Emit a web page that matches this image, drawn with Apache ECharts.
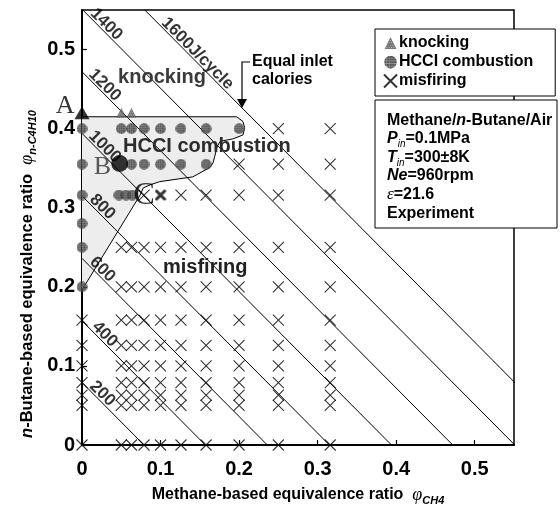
<!DOCTYPE html>
<html>
<head>
<meta charset="utf-8">
<script src="https://cdn.jsdelivr.net/npm/echarts@6.0.0/dist/echarts.min.js"></script>
<style>
  html, body { margin: 0; padding: 0; background: #fff; }
  #chart { width: 560px; height: 508px; }
</style>
</head>
<body>
<div id="chart"></div>
<script>
// ---- Operating map data: methane (x) vs n-butane (y) equivalence ratios ----
const xTicks = [0, 0.1, 0.2, 0.3, 0.4, 0.5];
const yTicks = [0, 0.1, 0.2, 0.3, 0.4, 0.5];

// Equal inlet calorie lines (J/cycle) and their intercepts on both axes
const calorieLevels = [200, 400, 600, 800, 1000, 1200, 1400, 1600];
const calorieIntercepts = [0.079, 0.157, 0.236, 0.315, 0.394, 0.472, 0.551, 0.630];
const calorieLabels = ['200', '400', '600', '800', '1000', '1200', '1400', '1600J/cycle'];

// Misfiring points, grouped by n-butane row
const misfireRowY = [0, 0.05, 0.063, 0.079, 0.1, 0.126, 0.158, 0.2, 0.25, 0.316, 0.355, 0.4];
const misfireRowX = [
  [0, 0.05, 0.063, 0.079, 0.1, 0.126, 0.158, 0.2, 0.25, 0.316],
  [0, 0.05, 0.063, 0.079, 0.1, 0.126, 0.158, 0.2, 0.25, 0.316],
  [0, 0.05, 0.063, 0.079, 0.1, 0.126, 0.158, 0.2, 0.25, 0.316],
  [0, 0.05, 0.063, 0.079, 0.1, 0.126, 0.158, 0.2, 0.25, 0.316],
  [0, 0.05, 0.063, 0.079, 0.1, 0.126, 0.158, 0.2, 0.25, 0.316],
  [0, 0.05, 0.063, 0.079, 0.1, 0.126, 0.158, 0.2, 0.25, 0.316],
  [0, 0.05, 0.063, 0.079, 0.1, 0.126, 0.158, 0.2, 0.25, 0.316],
  [0.05, 0.063, 0.079, 0.1, 0.126, 0.158, 0.2, 0.25, 0.316],
  [0.05, 0.063, 0.079, 0.1, 0.126, 0.158, 0.2, 0.25, 0.316],
  [0.079, 0.126, 0.158, 0.2, 0.25, 0.316],
  [0.2, 0.25, 0.316],
  [0.25, 0.316]
];

// HCCI combustion points
const hcciAxisY = [0.2, 0.25, 0.28, 0.316, 0.355, 0.4];   // pure n-butane column (x = 0)
const hcciRow316X = [0.047, 0.056, 0.064];
const hcciRow355X = [0.063, 0.079, 0.1, 0.126, 0.158];
const hcciRow400X = [0.05, 0.063, 0.079, 0.1, 0.126, 0.158, 0.2];

// Knocking points
const knockingX = [0.05, 0.063];
const knockingY = [0.42, 0.42];

// Highlighted operating points A, B, C and the bold misfire next to C
const pointA = [0, 0.42];
const pointB = [0.048, 0.356];
const pointC = [0.079, 0.316];
const boldMisfire = [0.1, 0.316];

// Boundary of the HCCI combustion region
const hcciBoundary = [
  [0, 0.415], [0.197, 0.415], [0.205, 0.409], [0.207, 0.401], [0.205, 0.392],
  [0.192, 0.387], [0.176, 0.384], [0.172, 0.377], [0.169, 0.365], [0.167, 0.357],
  [0.163, 0.351], [0.141, 0.339], [0.099, 0.333], [0.087, 0.329], [0.078, 0.325],
  [0.074, 0.316], [0, 0.196]
];

// ---- Symbols drawn on small canvases ----
function canvasSymbol(size, draw, s) {
  s = s || 4;
  const c = document.createElement('canvas');
  c.width = c.height = size * s;
  const g = c.getContext('2d');
  g.scale(s, s);
  draw(g, size);
  return 'image://' + c.toDataURL();
}
const crossPath = 'path://M0,0L10,10M10,0L0,10';
const boldCrossSym = canvasSymbol(12, (g, n) => {
  g.strokeStyle = '#000'; g.lineWidth = 3; g.lineCap = 'round';
  g.beginPath(); g.moveTo(2, 2); g.lineTo(n - 2, n - 2); g.moveTo(n - 2, 2); g.lineTo(2, n - 2); g.stroke();
});
const hcciSym = canvasSymbol(11, (g, n) => {
  g.beginPath(); g.arc(n / 2, n / 2, n / 2 - 0.2, 0, Math.PI * 2);
  g.fillStyle = '#2e2e2e'; g.fill();
  g.save(); g.clip();
  g.strokeStyle = 'rgba(200,200,200,0.5)'; g.lineWidth = 0.45;
  for (let v = 2.2; v < n; v += 2.3) {
    g.beginPath(); g.moveTo(v, 0); g.lineTo(v, n); g.moveTo(0, v); g.lineTo(n, v); g.stroke();
  }
  g.restore();
});
const knockSym = canvasSymbol(11, (g, n) => {
  g.beginPath(); g.moveTo(n / 2, 0.5); g.lineTo(n - 0.5, n - 0.5); g.lineTo(0.5, n - 0.5); g.closePath();
  g.fillStyle = '#555'; g.fill();
  g.save(); g.clip();
  g.fillStyle = 'rgba(235,235,235,0.7)';
  for (let y = 1; y < n; y += 2) for (let x = (y % 4 === 1 ? 0 : 1); x < n; x += 2) g.fillRect(x, y, 0.7, 0.7);
  g.restore();
});

// ---- Build series data from the arrays above ----
const misfireData = [];
misfireRowY.forEach((y, i) => misfireRowX[i].forEach(x => misfireData.push([x, y])));
const hcciData = []
  .concat(hcciAxisY.map(y => [0, y]))
  .concat(hcciRow316X.map(x => [x, 0.316]))
  .concat(hcciRow355X.map(x => [x, 0.355]))
  .concat(hcciRow400X.map(x => [x, 0.4]));
const knockingData = knockingX.map((x, i) => [x, knockingY[i]]);

// where each calorie label sits along its line (x of label centre) and its lift off the line
const tagAlong = [0.02, 0.023, 0.02, 0.02, 0.023, 0.023, 0.025, 0.141];
const tagLift = 0.006;
const tagData = calorieIntercepts.map((c, i) => [tagAlong[i] + tagLift, c - tagAlong[i] + tagLift, calorieLabels[i]]);

const SANS = '"Liberation Sans", Arial, sans-serif';
const SERIF = '"Liberation Serif", "Times New Roman", serif';

const calorieSeries = calorieIntercepts.map((c, i) => ({
  type: 'line',
  name: calorieLevels[i] + ' J/cycle',
  data: [[0, c], [c, 0]],
  symbol: 'none',
  silent: true,
  clip: true,
  lineStyle: { color: '#000', width: 1 },
  z: 2
}));

const chart = echarts.init(document.getElementById('chart'), null, { renderer: 'canvas' });

chart.setOption({
  animation: false,
  backgroundColor: '#fff',
  grid: {
    left: 82, right: 46, top: 10, bottom: 63,
    outerBoundsMode: 'none', containLabel: false,
    show: true, borderColor: '#000', borderWidth: 1.5, backgroundColor: 'transparent'
  },
  xAxis: {
    type: 'value', min: 0, max: 0.55, interval: 0.1,
    axisLine: { onZero: false, lineStyle: { color: '#000', width: 2 } },
    axisTick: { inside: true, length: 5, lineStyle: { color: '#000', width: 1.2 } },
    splitLine: { show: false },
    axisLabel: {
      margin: 14, showMaxLabel: false,
      fontFamily: SANS, fontWeight: 'bold', fontSize: 20, color: '#000',
      formatter: v => (xTicks.indexOf(+v.toFixed(2)) < 0 ? '' : (v === 0 ? '0' : v.toFixed(1)))
    },
    name: '{b|Methane-based equivalence ratio  }{phi|φ}{sub|CH4}',
    nameLocation: 'middle', nameGap: 39,
    nameTextStyle: {
      rich: {
        b: { fontFamily: SANS, fontWeight: 'bold', fontSize: 16, color: '#000', lineHeight: 22 },
        phi: { fontFamily: SERIF, fontStyle: 'italic', fontSize: 18, color: '#000', lineHeight: 22 },
        sub: { fontFamily: SANS, fontStyle: 'italic', fontWeight: 'bold', fontSize: 11, color: '#000', verticalAlign: 'bottom' }
      }
    }
  },
  yAxis: {
    type: 'value', min: 0, max: 0.55, interval: 0.1,
    axisLine: { onZero: false, lineStyle: { color: '#000', width: 2 } },
    axisTick: { inside: true, length: 5, lineStyle: { color: '#000', width: 1.2 } },
    splitLine: { show: false },
    axisLabel: {
      margin: 7, showMaxLabel: false,
      fontFamily: SANS, fontWeight: 'bold', fontSize: 20, color: '#000',
      formatter: v => (yTicks.indexOf(+v.toFixed(2)) < 0 ? '' : (v === 0 ? '0' : v.toFixed(1)))
    }
  },
  legend: {
    orient: 'vertical', left: 375, top: 29,
    data: ['knocking', 'HCCI combustion', 'misfiring'],
    backgroundColor: '#fff', borderColor: '#000', borderWidth: 1,
    padding: [6, 22, 7, 8], itemGap: 3, itemWidth: 13, itemHeight: 13,
    selectedMode: false,
    textStyle: { fontFamily: SANS, fontWeight: 'bold', fontSize: 16, color: '#000', padding: [0, 0, 0, -3] }
  },
  series: [
    {
      type: 'custom',
      name: 'HCCI region',
      silent: true,
      z: 1,
      data: [[0, 0]],
      renderItem: (params, api) => {
        const pts = hcciBoundary.map(p => api.coord(p));
        return {
          type: 'group',
          children: [
            { type: 'polygon', shape: { points: pts }, style: { fill: '#ededed', stroke: null } },
            { type: 'polyline', shape: { points: pts }, style: { stroke: '#000', lineWidth: 1, fill: null } }
          ]
        };
      }
    },
    ...calorieSeries,
    {
      type: 'scatter', name: 'misfiring', data: misfireData,
      symbol: crossPath, symbolSize: 11, z: 4,
      itemStyle: { color: 'rgba(0,0,0,0)', borderColor: '#000', borderWidth: 1.1 }
    },
    {
      type: 'scatter', name: 'HCCI combustion', data: hcciData,
      symbol: hcciSym, symbolSize: 11, z: 4
    },
    {
      type: 'scatter', name: 'knocking', data: knockingData,
      symbol: knockSym, symbolSize: 11, z: 4
    },
    {
      type: 'scatter', name: 'A', data: [pointA],
      symbol: 'triangle', symbolSize: [15, 13], itemStyle: { color: '#000' }, z: 5,
      label: { show: true, formatter: 'A', position: 'left', distance: 0, offset: [0, -7],
        fontFamily: SERIF, fontSize: 26, color: '#000' }
    },
    {
      type: 'scatter', name: 'B', data: [pointB],
      symbol: 'circle', symbolSize: 17, itemStyle: { color: '#000' }, z: 5,
      label: { show: true, formatter: 'B', position: 'left', distance: 0, offset: [0, 4],
        fontFamily: SERIF, fontSize: 26, color: '#333' }
    },
    {
      type: 'scatter', name: 'C', data: [pointC],
      symbol: 'circle', symbolSize: 2, itemStyle: { color: 'rgba(0,0,0,0)' }, z: 5,
      label: { show: true, formatter: 'C', position: 'inside', offset: [0, 1],
        fontFamily: SERIF, fontSize: 32, color: '#000' }
    },
    {
      type: 'scatter', name: 'misfire at C', data: [boldMisfire],
      symbol: boldCrossSym, symbolSize: 12, z: 5
    },
    {
      type: 'scatter', name: 'calorie tags', data: tagData, silent: true,
      symbolSize: 1, itemStyle: { color: 'rgba(0,0,0,0)' }, z: 6,
      label: {
        show: true, position: 'inside', rotate: -45,
        formatter: p => p.value[2],
        fontFamily: SANS, fontWeight: 'bold', fontSize: 17, color: '#000'
      }
    }
  ],
  graphic: [
    // y-axis title
    {
      type: 'text', x: 27, y: 274, rotation: Math.PI / 2, z: 20,
      style: {
        text: '{i|n}{b|-Butane-based equivalence ratio  }{phi|φ}{sub|n-C4H10}',
        align: 'center', verticalAlign: 'middle',
        rich: {
          i: { fontFamily: SANS, fontStyle: 'italic', fontWeight: 'bold', fontSize: 16.5, fill: '#000', lineHeight: 22 },
          b: { fontFamily: SANS, fontWeight: 'bold', fontSize: 16.5, fill: '#000', lineHeight: 22 },
          phi: { fontFamily: SERIF, fontStyle: 'italic', fontSize: 18, fill: '#000', lineHeight: 22 },
          sub: { fontFamily: SANS, fontStyle: 'italic', fontWeight: 'bold', fontSize: 11, fill: '#000', verticalAlign: 'bottom' }
        }
      }
    },
    // region names
    { type: 'text', x: 162, y: 77, z: 20, style: { text: 'knocking', align: 'center', verticalAlign: 'middle',
      font: 'bold 20px ' + SANS, fill: '#3a3a3a' } },
    { type: 'text', x: 123, y: 146, z: 20, style: { text: 'HCCI combustion', align: 'left', verticalAlign: 'middle',
      font: 'bold 20px ' + SANS, fill: '#2c2c2c' } },
    { type: 'text', x: 163, y: 267, z: 20, style: { text: 'misfiring', align: 'left', verticalAlign: 'middle',
      font: 'bold 20px ' + SANS, fill: '#222' } },
    // equal inlet calories callout
    { type: 'polyline', z: 20, shape: { points: [[250, 62], [242, 62], [242, 100]] }, style: { stroke: '#000', lineWidth: 1.2, fill: null } },
    { type: 'polygon', z: 20, shape: { points: [[237, 99], [247, 99], [242, 108]] }, style: { fill: '#000' } },
    { type: 'text', x: 252, y: 62, z: 20, style: { text: 'Equal inlet', verticalAlign: 'middle', font: 'bold 16px ' + SANS, fill: '#000' } },
    { type: 'text', x: 252, y: 80, z: 20, style: { text: 'calories', verticalAlign: 'middle', font: 'bold 16px ' + SANS, fill: '#000' } },
    // experiment conditions box
    { type: 'rect', x: 375, y: 100, z: 20, shape: { width: 182, height: 128 }, style: { fill: '#fff', stroke: '#000', lineWidth: 1 } },
    ...[
      ['{b|Methane/}{i|n}{b|-Butane/Air}', 121],
      ['{i|P}{sub|in}{b|=0.1MPa}', 139],
      ['{i|T}{sub|in}{b|=300±8K}', 158],
      ['{i|Ne}{b|=960rpm}', 176],
      ['{e|ε}{b|=21.6}', 195],
      ['{b|Experiment}', 214]
    ].map(([t, y]) => ({
      type: 'text', x: 387, y: y, z: 21,
      style: {
        text: t, verticalAlign: 'middle',
        rich: {
          b: { fontFamily: SANS, fontWeight: 'bold', fontSize: 16, fill: '#000', lineHeight: 20 },
          i: { fontFamily: SANS, fontStyle: 'italic', fontWeight: 'bold', fontSize: 16, fill: '#000', lineHeight: 20 },
          e: { fontFamily: SERIF, fontStyle: 'italic', fontSize: 17, fill: '#000', lineHeight: 20 },
          sub: { fontFamily: SANS, fontStyle: 'italic', fontSize: 10, fill: '#000', verticalAlign: 'bottom' }
        }
      }
    }))
  ]
});
</script>
</body>
</html>
